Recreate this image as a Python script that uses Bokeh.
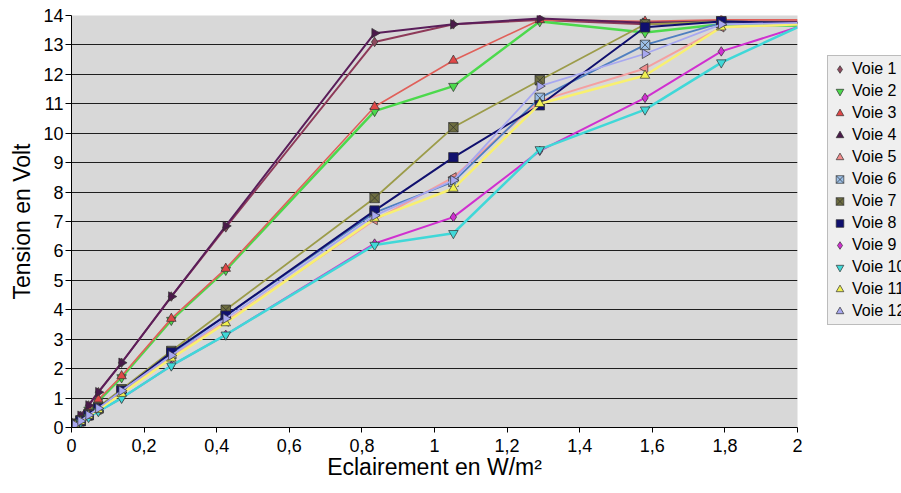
import math
from bokeh.plotting import figure
from bokeh.models import (ColumnDataSource, FixedTicker, Legend, LegendItem,
                          CDSView, IndexFilter, Range1d)
from bokeh.embed import file_html
from bokeh.resources import INLINE

# ---- data ----
eclairement = [0, 0.01, 0.025, 0.047, 0.074, 0.138, 0.275, 0.425, 0.835, 1.052, 1.29, 1.58, 1.79, 2.0]

voie1 = [0, 0.15, 0.40, 0.75, 1.20, 2.20, 4.45, 6.80, 13.10, 13.70, 13.85, 13.70, 13.80, 13.80]
voie2 = [0, 0.12, 0.30, 0.60, 0.90, 1.70, 3.65, 5.35, 10.75, 11.60, 13.80, 13.42, 13.70, 13.65]
voie3 = [0, 0.12, 0.30, 0.60, 0.95, 1.75, 3.70, 5.40, 10.90, 12.47, 13.85, 13.80, 13.85, 13.85]
voie4 = [0, 0.15, 0.40, 0.75, 1.20, 2.20, 4.45, 6.85, 13.40, 13.70, 13.90, 13.75, 13.80, 13.75]
voie5 = [0, 0.09, 0.20, 0.40, 0.60, 1.20, 2.40, 3.60, 7.05, 8.50, 11.10, 12.20, 13.60, 13.70]
voie6 = [0, 0.09, 0.22, 0.42, 0.65, 1.25, 2.50, 3.80, 7.30, 8.35, 11.20, 13.00, 13.75, 13.75]
voie7 = [0, 0.10, 0.24, 0.45, 0.70, 1.30, 2.60, 4.00, 7.80, 10.20, 11.80, 13.70, 13.80, 13.75]
voie8 = [0, 0.09, 0.22, 0.42, 0.65, 1.25, 2.55, 3.80, 7.37, 9.18, 10.95, 13.60, 13.80, 13.75]
voie9 = [0, 0.07, 0.18, 0.35, 0.55, 1.00, 2.10, 3.15, 6.25, 7.15, 9.40, 11.20, 12.78, 13.60]
voie10 = [0, 0.07, 0.18, 0.35, 0.55, 1.00, 2.10, 3.15, 6.20, 6.60, 9.45, 10.80, 12.40, 13.60]
voie11 = [0, 0.08, 0.20, 0.40, 0.60, 1.15, 2.35, 3.55, 7.10, 8.12, 11.00, 11.96, 13.60, 13.70]
voie12 = [0, 0.09, 0.22, 0.42, 0.65, 1.25, 2.45, 3.70, 7.20, 8.40, 11.60, 12.70, 13.70, 13.75]

series_names = ["Voie 1", "Voie 2", "Voie 3", "Voie 4", "Voie 5", "Voie 6",
                "Voie 7", "Voie 8", "Voie 9", "Voie 10", "Voie 11", "Voie 12"]
series_values = [voie1, voie2, voie3, voie4, voie5, voie6,
                 voie7, voie8, voie9, voie10, voie11, voie12]

x_ticks = [0, 0.2, 0.4, 0.6, 0.8, 1.0, 1.2, 1.4, 1.6, 1.8, 2.0]
x_tick_labels = ["0", "0,2", "0,4", "0,6", "0,8", "1", "1,2", "1,4", "1,6", "1,8", "2"]
y_ticks = list(range(0, 15))

# ---- styles ----
line_colors = ["#8E3A59", "#4CD94C", "#E0605A", "#5A1E5A", "#F4A0A0", "#4F7FC0",
               "#9C9C4A", "#10106E", "#D030D0", "#40D8D8", "#F8F070", "#A8A8F0"]
marker_fills = ["#8E4A5E", "#4CD94C", "#E04848", "#4A1A4A", "#F08C8C", "#9CC0E8",
                "#6E6E40", "#10106E", "#D030D0", "#40D8D8", "#F0F050", "#A8A8F0"]
markers = ["diamond", "inverted_triangle", "triangle", "triangle", "triangle", "square_x",
           "square_x", "square", "diamond", "inverted_triangle", "triangle", "triangle"]
angles = [0, 0, 0, -math.pi / 2, math.pi / 2, 0, 0, 0, 0, 0, 0, -math.pi / 2]
widths = [2, 2.5, 1.6, 2, 2, 1.8, 1.8, 2, 2, 2.5, 2.5, 1.8]

FONT = "Liberation Sans"

p = figure(frame_width=726, frame_height=412,
           min_border_left=71, min_border_right=103, min_border_top=15, min_border_bottom=65,
           output_backend="svg", toolbar_location=None,
           x_range=Range1d(0, 2), y_range=Range1d(0, 14),
           background_fill_color="#D8D8D8", border_fill_color="#FFFFFF",
           outline_line_color=None)

n = len(eclairement)
items = []
for name, vals, lc, mf, mk, ang, w in zip(series_names, series_values, line_colors,
                                          marker_fills, markers, angles, widths):
    src = ColumnDataSource(dict(x=eclairement, y=vals))
    p.line("x", "y", source=src, line_color=lc, line_width=w)
    view = CDSView(filter=IndexFilter(list(range(n - 1))))
    r = p.scatter("x", "y", source=src, view=view, marker=mk, angle=ang, size=9.5,
                  fill_color=mf, line_color="#303030", line_width=0.7)
    items.append(LegendItem(label=name, renderers=[r]))

legend = Legend(items=items, location=(30, 102),
                label_text_font=FONT, label_text_font_size="16px", label_text_color="#000000",
                label_height=22, glyph_height=22, glyph_width=19, label_standoff=3,
                spacing=0, padding=2, margin=0,
                border_line_color="#8A8A8A", border_line_width=1,
                background_fill_color="#EFEFEF", background_fill_alpha=1.0)
p.add_layout(legend, "right")

# axes
p.xaxis.ticker = FixedTicker(ticks=x_ticks)
p.xaxis.major_label_overrides = {t: l for t, l in zip(x_ticks, x_tick_labels)}
p.yaxis.ticker = FixedTicker(ticks=y_ticks)
for ax in (p.xaxis, p.yaxis):
    ax.axis_line_color = "#000000"
    ax.axis_line_width = 1
    ax.major_tick_line_color = "#000000"
    ax.major_tick_in = 0
    ax.minor_tick_line_color = None
    ax.major_label_text_font = FONT
    ax.major_label_text_font_size = "18px"
    ax.major_label_text_color = "#000000"
    ax.axis_label_text_font = FONT
    ax.axis_label_text_font_size = "23px"
    ax.axis_label_text_font_style = "normal"
    ax.axis_label_text_color = "#000000"
p.xaxis.major_tick_out = 5
p.xaxis.major_label_standoff = 6
p.xaxis.axis_label = "Eclairement en W/m²"
p.xaxis.axis_label_standoff = -1
p.yaxis.major_tick_out = 6
p.yaxis.major_label_standoff = 2
p.yaxis.axis_label = "Tension en Volt"
p.yaxis.axis_label_standoff = 5

p.xgrid.grid_line_color = None
p.ygrid.grid_line_color = "#1E1E1E"
p.ygrid.grid_line_width = 1

open("out.html", "w").write(file_html(p, INLINE))
